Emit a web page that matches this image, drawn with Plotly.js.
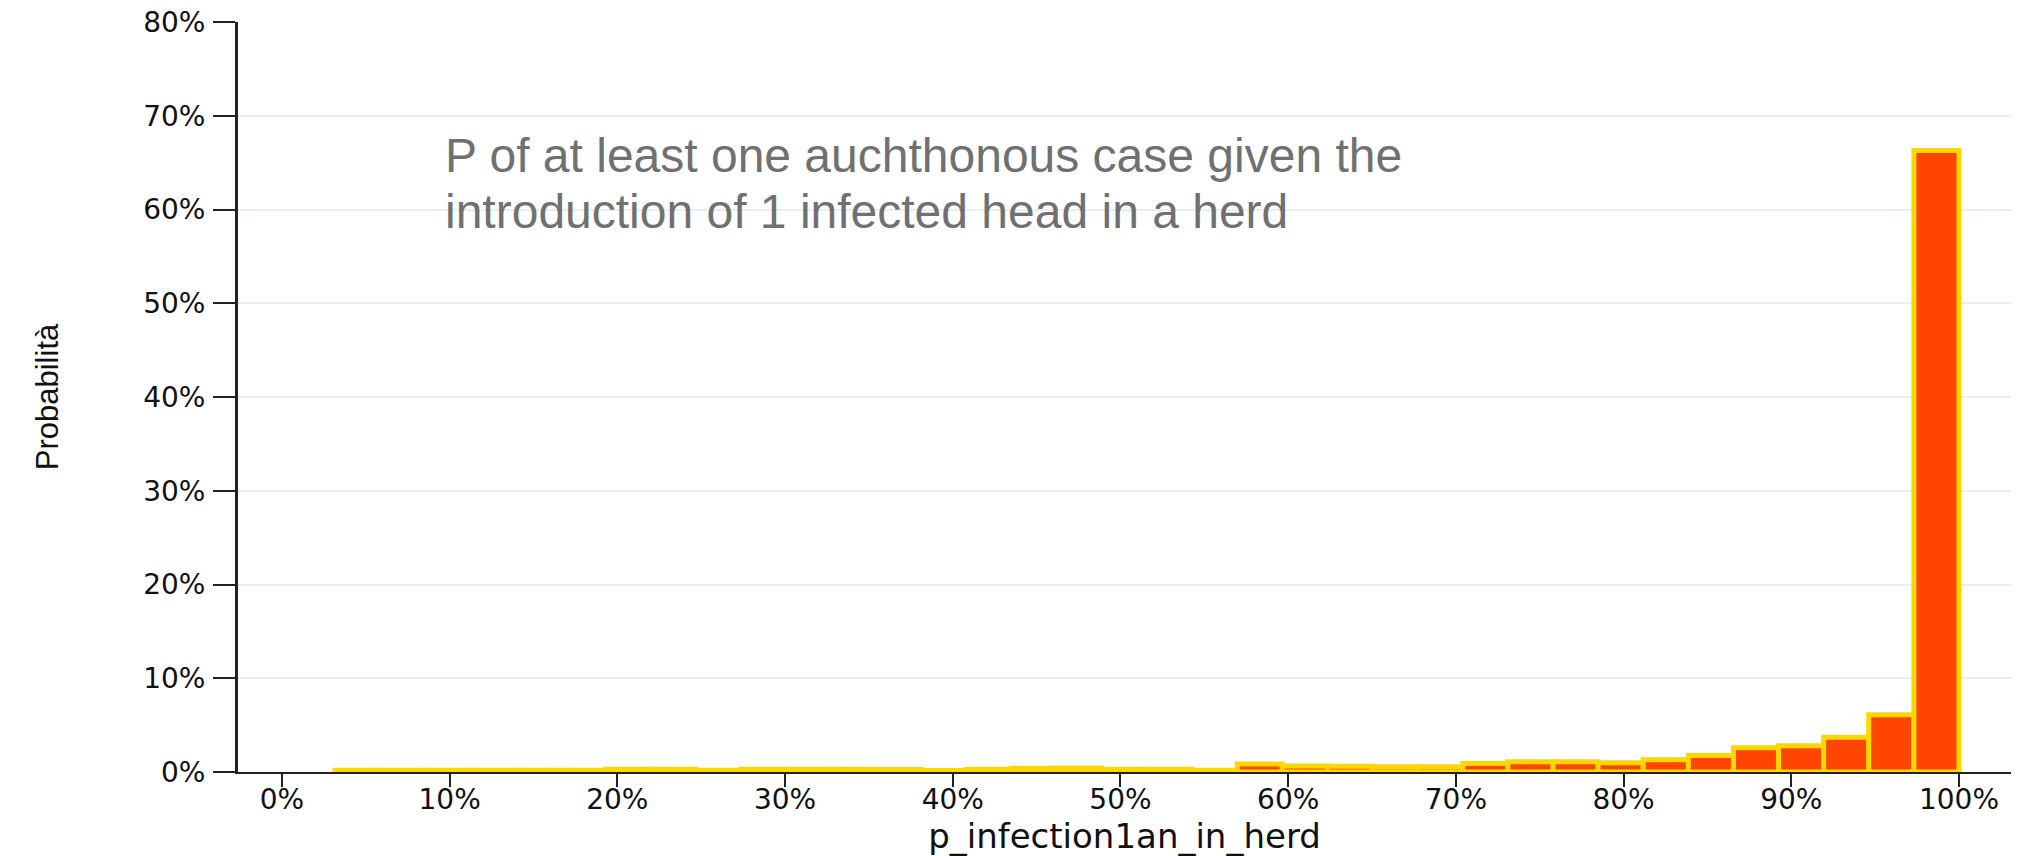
<!DOCTYPE html>
<html>
<head>
<meta charset="utf-8">
<script src="https://cdn.plot.ly/plotly-3.0.1.min.js"></script>
<style>
  html, body { margin: 0; padding: 0; background: #ffffff; }
  #chart { width: 2041px; height: 856px; }
</style>
</head>
<body>
<div id="chart"></div>
<script>
// Histogram bins (left edges, as fractions)
const binStart = [0.0316, 0.0585, 0.0854, 0.1123, 0.1392, 0.1661, 0.1930, 0.2199, 0.2468,
                  0.2737, 0.3006, 0.3275, 0.3544, 0.3813, 0.4082, 0.4351, 0.4620, 0.4889,
                  0.5158, 0.5427, 0.5696, 0.5965, 0.6234, 0.6503, 0.6772, 0.7041, 0.7310,
                  0.7579, 0.7848, 0.8117, 0.8386, 0.8655, 0.8924, 0.9193, 0.9462, 0.9731];
const binWidth = 0.0269;
// Probability of each bin
const probability = [0.0020, 0.0020, 0.0020, 0.0020, 0.0020, 0.0020, 0.0030, 0.0030, 0.0020,
                     0.0030, 0.0030, 0.0030, 0.0028, 0.0017, 0.0030, 0.0040, 0.0043, 0.0030,
                     0.0030, 0.0018, 0.0085, 0.0065, 0.0062, 0.0055, 0.0055, 0.0090, 0.0110,
                     0.0110, 0.0100, 0.0130, 0.0175, 0.0260, 0.0280, 0.0370, 0.0610, 0.6630];
const xTickVals = [0, 0.1, 0.2, 0.3, 0.4, 0.5, 0.6, 0.7, 0.8, 0.9, 1.0];
const yTickVals = [0, 0.1, 0.2, 0.3, 0.4, 0.5, 0.6, 0.7, 0.8];
const noteLines = ["P of at least one auchthonous case given the",
                   "introduction of 1 infected head in a herd"];
const xTitle = "p_infection1an_in_herd";
const yTitle = "Probabilità";

const trace = {
  type: 'bar',
  x: binStart,
  y: probability,
  width: binStart.map(() => binWidth),
  offset: 0,
  marker: { color: '#FF4500', line: { color: '#FFD700', width: 5 } },
  hoverinfo: 'skip'
};

const tickFont = { family: 'DejaVu Sans, Verdana, sans-serif', size: 28, color: '#111111' };

const layout = {
  width: 2041, height: 856,
  margin: { l: 238, r: 30, t: 22, b: 84 },
  paper_bgcolor: '#ffffff', plot_bgcolor: '#ffffff',
  showlegend: false,
  bargap: 0,
  xaxis: {
    range: [-0.0262, 1.031],
    tickmode: 'array', tickvals: xTickVals, tickformat: '.0%',
    showgrid: false, zeroline: false,
    showline: true, linecolor: '#222222', linewidth: 2,
    ticks: 'outside', ticklen: 13, tickwidth: 2, tickcolor: '#222222',
    ticklabelstandoff: -12,
    tickfont: tickFont,
    title: { text: xTitle, font: { family: 'DejaVu Sans, Verdana, sans-serif', size: 34, color: '#111111' }, standoff: 8 },
    automargin: false
  },
  yaxis: {
    range: [0, 0.8],
    tickmode: 'array', tickvals: yTickVals, tickformat: '.0%',
    showgrid: true, gridcolor: '#E8EEF1', gridwidth: 2,
    zeroline: false,
    showline: true, linecolor: '#222222', linewidth: 3,
    ticks: 'outside', ticklen: 22, tickwidth: 2, tickcolor: '#222222',
    ticklabelstandoff: 2,
    tickfont: tickFont,
    title: { text: yTitle, font: { family: 'Liberation Sans Narrow, Liberation Sans, Arial, sans-serif', size: 31, color: '#111111' }, standoff: 76 },
    automargin: false
  },
  annotations: [
    { xref: 'x', yref: 'y', x: 0.096, y: 0.658, xanchor: 'left', yanchor: 'middle',
      text: noteLines[0], showarrow: false,
      font: { family: 'Liberation Sans, Arial, sans-serif', size: 48, color: '#707070' } },
    { xref: 'x', yref: 'y', x: 0.096, y: 0.598, xanchor: 'left', yanchor: 'middle',
      text: noteLines[1], showarrow: false,
      font: { family: 'Liberation Sans, Arial, sans-serif', size: 48, color: '#707070' } }
  ]
};

Plotly.newPlot('chart', [trace], layout, { staticPlot: true, displayModeBar: false });
</script>
</body>
</html>
